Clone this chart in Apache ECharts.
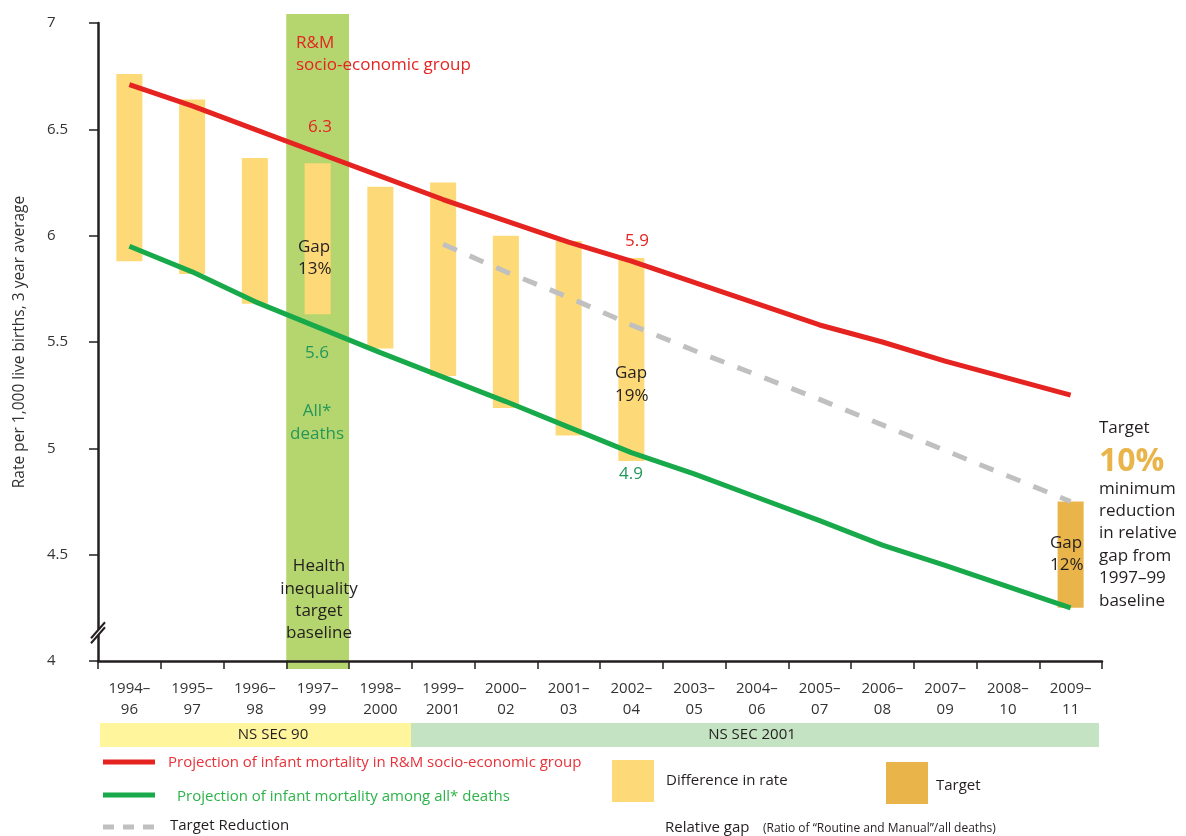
<!DOCTYPE html>
<html><head><meta charset="utf-8">
<script src="https://cdn.jsdelivr.net/npm/echarts@6/dist/echarts.min.js"></script>
<style>html,body{margin:0;padding:0;background:#fff}#c{width:1186px;height:836px}</style>
</head><body><div id="c"></div>
<script>
// ---- data ----
const categories = ['1994–\n96','1995–\n97','1996–\n98','1997–\n99','1998–\n2000','1999–\n2001','2000–\n02','2001–\n03','2002–\n04','2003–\n05','2004–\n06','2005–\n07','2006–\n08','2007–\n09','2008–\n10','2009–\n11'];
const yTickMin = 4, yTickMax = 7, yTickStep = 0.5;
const rmRate = [6.71, 6.61, 6.50, 6.39, 6.28, 6.17, 6.07, 5.97, 5.88, 5.78, 5.68, 5.58, 5.50, 5.41, 5.33, 5.25];
const allRate = [5.95, 5.83, 5.69, 5.57, 5.45, 5.335, 5.22, 5.10, 4.98, 4.88, 4.77, 4.66, 4.545, 4.45, 4.35, 4.25];
const targetReduction = [null, null, null, null, null, 5.96, 5.83, 5.71, 5.58, 5.46, 5.345, 5.23, 5.11, 4.99, 4.87, 4.75];
const diffLow  = [5.88, 5.82, 5.68, 5.63, 5.47, 5.34, 5.19, 5.06, 4.94];
const diffHigh = [6.76, 6.64, 6.365, 6.34, 6.23, 6.25, 6.00, 5.975, 5.895];
const targetCategory = 15, targetLow = 4.25, targetHigh = 4.75;
const baselineCategory = 3;
const breakValue = 4.14;

// ---- colours ----
const RED = '#e52421', GREEN = '#17a94a', GREY = '#c0c0c0', BAR = '#fdd977', TARGET = '#e9b54a', BAND = '#b5d56e';
const DARK = '#231f20', TXTGREEN = '#23985a';
const FONT = '"Open Sans", sans-serif';

function rangeBar(color, frac) {
  return function (params, api) {
    const x = api.value(0);
    const top = api.coord([x, api.value(2)]);
    const bot = api.coord([x, api.value(1)]);
    const w = api.size([1, 0])[0] * frac;
    return { type: 'rect', shape: { x: top[0] - w / 2, y: top[1], width: w, height: bot[1] - top[1] }, style: { fill: color } };
  };
}

const chart = echarts.init(document.getElementById('c'), null, { renderer: 'canvas' });

function txt(text, x, y, opt) {
  opt = opt || {};
  return {
    type: 'text', z: 100,
    style: {
      text: text, x: x, y: y,
      fill: opt.color || DARK,
      font: (opt.weight || 'normal') + ' ' + (opt.size || 17) + 'px ' + FONT,
      textAlign: opt.align || 'left',
      textVerticalAlign: 'middle'
    }
  };
}

const graphics = [
  // in-chart annotations
  txt('R&M', 296, 43, { color: RED }),
  txt('socio-economic group', 296, 65, { color: RED }),
  txt('6.3', 320, 127, { color: RED, align: 'center' }),
  txt('Gap', 298, 247),
  txt('13%', 298, 269),
  txt('5.6', 317, 353, { color: TXTGREEN, align: 'center' }),
  txt('All*', 317, 411, { color: TXTGREEN, align: 'center' }),
  txt('deaths', 317, 434, { color: TXTGREEN, align: 'center' }),
  txt('Health', 319, 566, { align: 'center' }),
  txt('inequality', 319, 589, { align: 'center' }),
  txt('target', 319, 611, { align: 'center' }),
  txt('baseline', 319, 633, { align: 'center' }),
  txt('5.9', 637, 241, { color: RED, align: 'center' }),
  txt('Gap', 615, 373),
  txt('19%', 615, 396),
  txt('4.9', 631, 474, { color: TXTGREEN, align: 'center' }),
  txt('Gap', 1050, 543),
  txt('12%', 1050, 565),
  txt('Target', 1099, 428),
  txt('10%', 1099, 462, { color: TARGET, size: 32, weight: 'bold' }),
  txt('minimum', 1099, 489),
  txt('reduction', 1099, 511),
  txt('in relative', 1099, 533),
  txt('gap from', 1099, 556),
  txt('1997–99', 1099, 578),
  txt('baseline', 1099, 601),
  // NS SEC bands
  { type: 'rect', shape: { x: 100, y: 723, width: 311, height: 24 }, style: { fill: '#fff59d' } },
  { type: 'rect', shape: { x: 411, y: 723, width: 688, height: 24 }, style: { fill: '#c4e3c3' } },
  txt('NS SEC 90', 273, 735, { size: 15, align: 'center' }),
  txt('NS SEC 2001', 752, 735, { size: 15, align: 'center' }),
  // legend
  { type: 'line', shape: { x1: 103, y1: 762, x2: 155, y2: 762 }, style: { stroke: RED, lineWidth: 5 } },
  txt('Projection of infant mortality in R&M socio-economic group', 168, 763, { size: 15, color: '#e8323a' }),
  { type: 'line', shape: { x1: 103, y1: 795, x2: 155, y2: 795 }, style: { stroke: GREEN, lineWidth: 5 } },
  txt('Projection of infant mortality among all* deaths', 177, 797, { size: 15, color: '#2db34a' }),
  { type: 'line', shape: { x1: 103, y1: 827, x2: 155, y2: 827 }, style: { stroke: GREY, lineWidth: 5, lineDash: [11, 9] } },
  txt('Target Reduction', 170, 826, { size: 15 }),
  { type: 'rect', shape: { x: 612, y: 760, width: 42, height: 42 }, style: { fill: BAR } },
  txt('Difference in rate', 666, 781, { size: 15 }),
  { type: 'rect', shape: { x: 886, y: 762, width: 42, height: 42 }, style: { fill: TARGET } },
  txt('Target', 936, 786, { size: 15 }),
  txt('Relative gap', 665, 828, { size: 15 }),
  txt('(Ratio of \u201cRoutine and Manual\u201d/all deaths)', 763, 829, { size: 12 })
];

const option = {
  animation: false,
  backgroundColor: '#fff',
  textStyle: { fontFamily: FONT },
  grid: { left: 98, right: 84, top: 23, bottom: 175, containLabel: false, outerBoundsMode: 'none' },
  xAxis: {
    type: 'category', data: categories, boundaryGap: true,
    axisLine: { lineStyle: { color: DARK, width: 2.5 } },
    axisTick: { show: true, length: 8, lineStyle: { color: DARK, width: 1.5 } },
    axisLabel: { interval: 0, fontSize: 15, lineHeight: 21, margin: 17, color: '#333', fontFamily: FONT },
    splitLine: { show: false }
  },
  yAxis: {
    type: 'value', min: yTickMin, max: yTickMax, interval: yTickStep,
    name: 'Rate per 1,000 live births, 3 year average', nameLocation: 'middle', nameGap: 70,
    nameTextStyle: { fontSize: 15.5, color: '#333', fontFamily: FONT },
    axisLine: { show: true, lineStyle: { color: DARK, width: 2.5 } },
    axisTick: { show: true, length: 9, lineStyle: { color: DARK, width: 1.5 } },
    axisLabel: { align: 'left', margin: 51, fontSize: 15, color: '#333', fontFamily: FONT },
    splitLine: { show: false }
  },
  graphic: graphics,
  series: [
    {
      name: 'baseline band', type: 'custom', z: -1, silent: true,
      data: [[baselineCategory]],
      renderItem: function (params, api) {
        const cs = params.coordSys;
        const c = api.coord([api.value(0), yTickMin]);
        const w = api.size([1, 0])[0];
        return { type: 'rect', shape: { x: c[0] - w / 2, y: cs.y - 9, width: w, height: cs.height + 17 }, style: { fill: BAND } };
      }
    },
    {
      name: 'Difference in rate', type: 'custom',
      data: diffLow.map((l, i) => [i, l, diffHigh[i]]),
      encode: { x: 0, y: [1, 2] },
      renderItem: rangeBar(BAR, 0.415)
    },
    {
      name: 'Target', type: 'custom',
      data: [[targetCategory, targetLow, targetHigh]],
      encode: { x: 0, y: [1, 2] },
      renderItem: rangeBar(TARGET, 0.415)
    },
    {
      name: 'Target Reduction', type: 'line', data: targetReduction, symbol: 'none',
      lineStyle: { color: GREY, width: 5, type: [15, 14] }, connectNulls: false
    },
    {
      name: 'R&M', type: 'line', data: rmRate, symbol: 'none',
      lineStyle: { color: RED, width: 5 }
    },
    {
      name: 'All deaths', type: 'line', data: allRate, symbol: 'none',
      lineStyle: { color: GREEN, width: 5 }
    },
    {
      name: 'axis break', type: 'custom', silent: true, z: 10,
      data: [[0, breakValue]],
      renderItem: function (params, api) {
        const cs = params.coordSys;
        const y = api.coord([api.value(0), api.value(1)])[1];
        const x = cs.x;
        return {
          type: 'group', children: [
            { type: 'polygon', shape: { points: [[x - 7, y + 7], [x + 7, y - 9], [x + 7, y - 4], [x - 7, y + 12]] }, style: { fill: '#fff' } },
            { type: 'line', shape: { x1: x - 7, y1: y + 7, x2: x + 7, y2: y - 9 }, style: { stroke: DARK, lineWidth: 2 } },
            { type: 'line', shape: { x1: x - 7, y1: y + 12, x2: x + 7, y2: y - 4 }, style: { stroke: DARK, lineWidth: 2 } }
          ]
        };
      }
    }
  ]
};
chart.setOption(option);
</script></body></html>
